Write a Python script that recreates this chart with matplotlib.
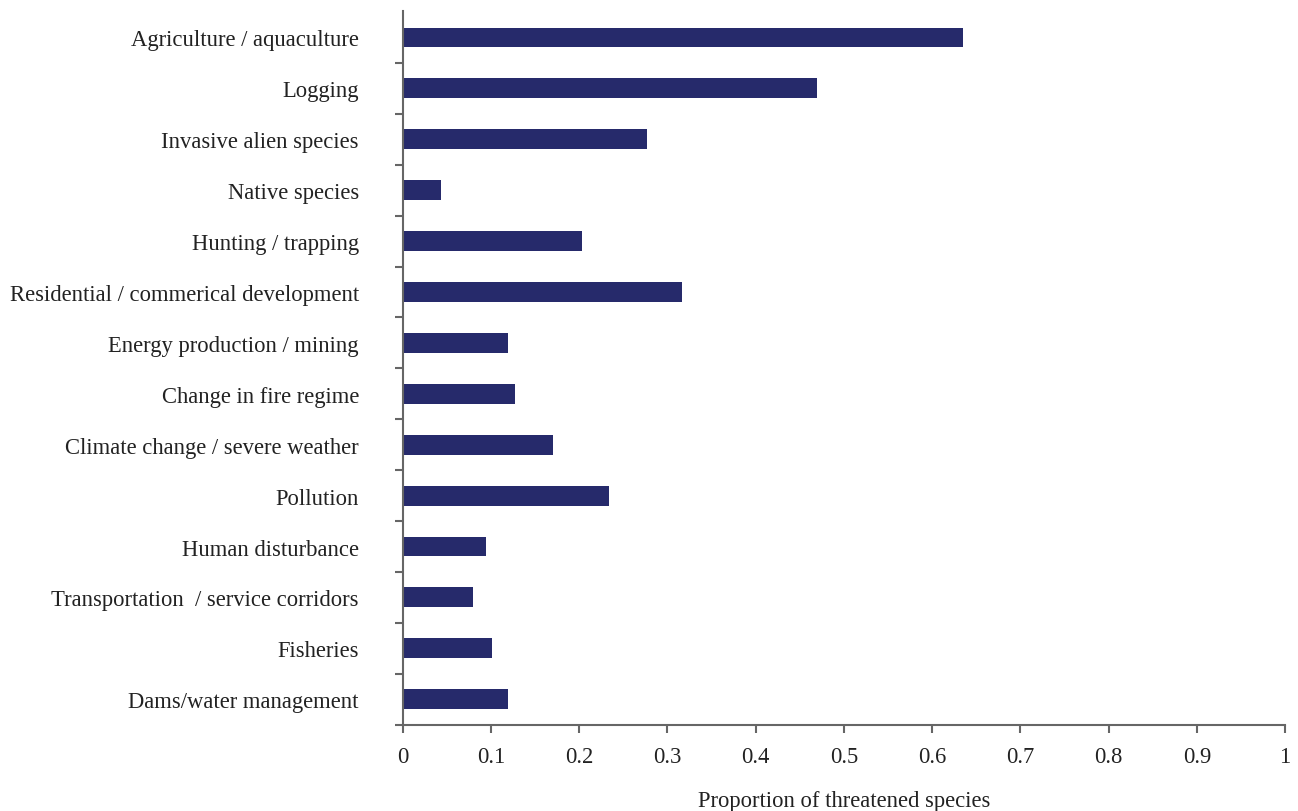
import matplotlib
matplotlib.use("Agg")
import matplotlib.pyplot as plt
import numpy as np

categories = [
    "Agriculture / aquaculture",
    "Logging",
    "Invasive alien species",
    "Native species",
    "Hunting / trapping",
    "Residential / commerical development",
    "Energy production / mining",
    "Change in fire regime",
    "Climate change / severe weather",
    "Pollution",
    "Human disturbance",
    "Transportation  / service corridors",
    "Fisheries",
    "Dams/water management",
]
values = [0.635, 0.470, 0.277, 0.043, 0.203, 0.317, 0.119, 0.127, 0.170, 0.234, 0.095, 0.080, 0.101, 0.119]
xticks = [0, 0.1, 0.2, 0.3, 0.4, 0.5, 0.6, 0.7, 0.8, 0.9, 1]
xticklabels = ["0", "0.1", "0.2", "0.3", "0.4", "0.5", "0.6", "0.7", "0.8", "0.9", "1"]

plt.rcParams['font.family'] = ['Liberation Serif', 'DejaVu Serif']
fs = 16.3

fig = plt.figure(figsize=(12.98, 8.12), dpi=100)
ax = fig.add_axes([0.3102, 0.1063, 0.6798, 0.8789])

pos = np.arange(len(categories))
ax.barh(pos, values, height=0.39, color="#262a6b", edgecolor="none")

ax.set_xlim(0, 1)
ax.set_ylim(len(categories) - 0.5, -0.52)

ax.set_yticks(pos)
ax.set_yticklabels(categories, fontsize=fs, color="#222222")
ax.set_yticks(np.arange(len(categories)) + 0.5, minor=True)
ax.tick_params(axis="y", which="major", length=0, pad=31.5)
ax.tick_params(axis="y", which="minor", length=6, width=1.5, color="#666666", direction="out")

ax.set_xticks(xticks)
ax.set_xticklabels(xticklabels, fontsize=fs, color="#222222")
ax.tick_params(axis="x", which="major", length=6, width=1.5, color="#666666", direction="out", pad=9)

for s in ["top", "right"]:
    ax.spines[s].set_visible(False)
for s in ["left", "bottom"]:
    ax.spines[s].set_color("#666666")
    ax.spines[s].set_linewidth(1.5)

ax.set_xlabel("Proportion of threatened species", fontsize=fs, color="#222222", labelpad=17)

fig.savefig("out.png", dpi=100, facecolor="white")
